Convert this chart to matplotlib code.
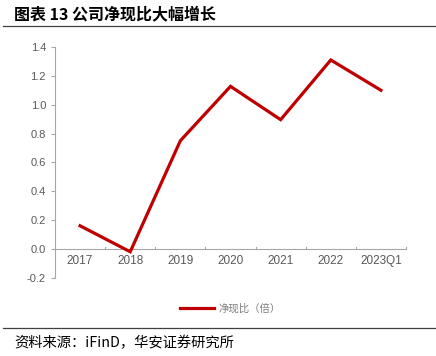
import matplotlib
matplotlib.use('Agg')

import matplotlib.pyplot as plt
import numpy as np

plt.rcParams['font.family'] = ['Noto Sans CJK SC', 'DejaVu Sans']

periods = ['2017', '2018', '2019', '2020', '2021', '2022', '2023Q1']
cash_ratio = [0.16, -0.02, 0.75, 1.127, 0.896, 1.31, 1.10]
yticks = [-0.2, 0.0, 0.2, 0.4, 0.6, 0.8, 1.0, 1.2, 1.4]

red = '#C00000'
grey = '#595959'
axis_grey = '#A6A6A6'

fig = plt.figure(figsize=(4.36, 3.56), dpi=100)
ax = fig.add_axes([55/436, 1 - 277.7/356, 351/436, (277.7 - 47)/356])

x = np.arange(len(periods))
ax.plot(x, cash_ratio, color=red, lw=2.3, solid_joinstyle='miter', label='净现比（倍）')

ax.set_xlim(-0.5, len(periods) - 0.5)
ax.set_ylim(-0.2, 1.4)
ax.set_yticks(yticks)
ax.set_yticklabels(['%.1f' % v for v in yticks])

for s in ['top', 'right', 'bottom']:
    ax.spines[s].set_visible(False)
ax.spines['left'].set_color(axis_grey)
ax.spines['left'].set_linewidth(0.8)

# x axis sits at zero
ax.axhline(0, color=axis_grey, lw=0.8, zorder=1)
ax.set_xticks([])
for b in np.arange(-0.5, len(periods), 1.0):
    ax.plot([b, b], [0, 0.012], color=axis_grey, lw=0.8, clip_on=False, zorder=1)
for i, p in enumerate(periods):
    ax.text(i, -0.045, p, ha='center', va='top', fontsize=8.5, color=grey, family='Liberation Sans')

ax.tick_params(axis='y', colors=axis_grey, labelcolor=grey, labelsize=8, length=3, width=0.8)
for lbl in ax.get_yticklabels():
    lbl.set_family('Liberation Sans')

leg = ax.legend(loc='upper center', bbox_to_anchor=(0.5, -0.07), frameon=False,
                fontsize=7.5, handlelength=3.3, handletextpad=0.4, labelcolor='#7F7F7F')

fig.text(14/436, 1 - 14/356, '图表 13 公司净现比大幅增长', fontsize=11.5, fontweight='bold',
         va='center', ha='left', color='black')
fig.add_artist(plt.Line2D([3/436, 1], [1 - 26/356, 1 - 26/356], color='#404040', lw=0.9))
fig.add_artist(plt.Line2D([3/436, 1], [1 - 328/356, 1 - 328/356], color='#404040', lw=0.9))
fig.text(14/436, 1 - 343/356, '资料来源：iFinD，华安证券研究所', fontsize=10.3,
         va='center', ha='left', color='black')

fig.savefig('out.png', dpi=100)
